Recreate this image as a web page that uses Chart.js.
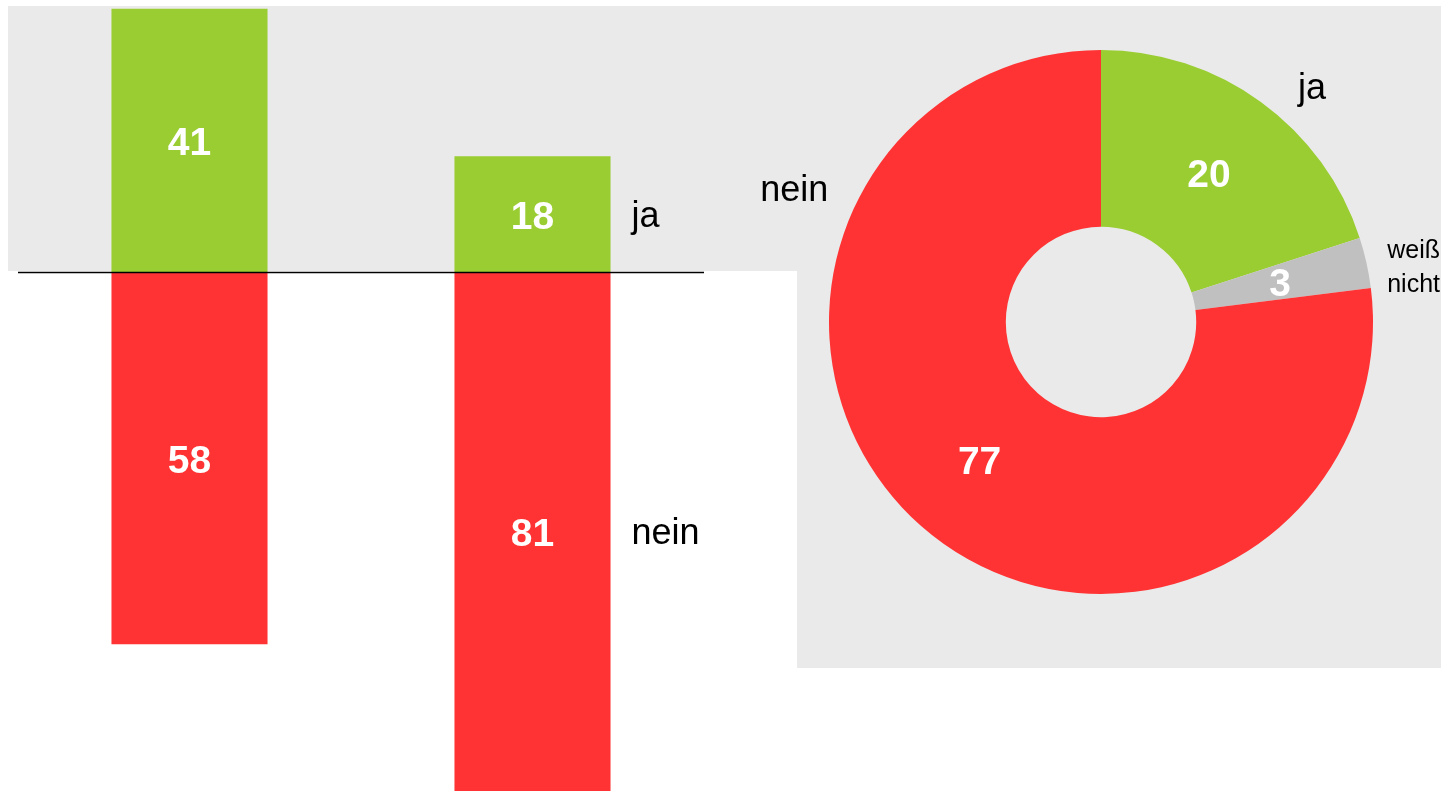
<!DOCTYPE html>
<html>
<head>
<meta charset="utf-8">
<script src="https://cdn.jsdelivr.net/npm/chart.js@4"></script>
<style>
  body { margin: 0; background: #fff; overflow: hidden; }
  .wrap { position: relative; width: 1441px; height: 791px; overflow: hidden; }
  .bg { position: absolute; background: #eaeaea; }
  canvas { position: absolute; }
</style>
</head>
<body>
<div class="wrap">
  <div class="bg" style="left:8px;top:6px;width:1433px;height:265px"></div>
  <div class="bg" style="left:797px;top:6px;width:644px;height:662px"></div>
  <canvas id="barChart" width="720" height="791" style="left:0;top:0"></canvas>
  <canvas id="pieChart" width="721" height="791" style="left:720px;top:0"></canvas>
</div>
<script>
const GREEN = "#9acd32";
const RED = "#ff3333";
const GREY = "#c0c0c0";
const FONT = "'Liberation Sans', Arial, sans-serif";
const VALUE_SIZE = 39;

// bar data
const barCategories = ["A", "B"];
const jaValues = [41, 18];
const neinValues = [58, 81];
const barSeriesNames = ["ja", "nein"];

// doughnut data
const pieLabels = ["ja", "weiß nicht", "nein"];
const pieValues = [20, 3, 77];

// labels outside the doughnut: angle (deg from top, clockwise) and distance from centre (baseline anchor)
const pieOuterLabels = [
    { lines: ["ja"], angle: 43.4, dist: 307, align: "center", size: 36, gap: 0 },
    { lines: ["nein"], angle: -68.4, dist: 330, align: "center", size: 36, gap: 0 },
    { lines: ["weiß", "nicht"], angle: 80.7, dist: 290, align: "left", size: 25, gap: 33.4 },
];

// draw digits so that their ink is centred on y
function valueText(ctx, txt, x, y) {
    ctx.font = "bold " + VALUE_SIZE + "px " + FONT;
    ctx.fillStyle = "#fff";
    ctx.textAlign = "center";
    ctx.textBaseline = "alphabetic";
    ctx.fillText(txt, x, y + VALUE_SIZE * 0.358);
}

// value labels in the middle of each bar segment + series names beside the last bar
const barLabelPlugin = {
    id: "barLabels",
    afterDatasetsDraw(chart) {
        const ctx = chart.ctx;
        const yScale = chart.scales.y;
        ctx.save();
        // zero line
        const y0 = Math.round(yScale.getPixelForValue(0)) + 0.5;
        ctx.strokeStyle = "#000";
        ctx.lineWidth = 1.6;
        ctx.beginPath();
        ctx.moveTo(chart.chartArea.left, y0);
        ctx.lineTo(chart.chartArea.right, y0);
        ctx.stroke();

        chart.data.datasets.forEach((ds, di) => {
            const meta = chart.getDatasetMeta(di);
            meta.data.forEach((bar, i) => {
                const top = Math.max(Math.min(bar.y, bar.base), 0);
                const bottom = Math.min(Math.max(bar.y, bar.base), chart.height);
                const mid = (top + bottom) / 2;
                valueText(ctx, String(Math.abs(ds.data[i])), bar.x, mid + 1);
                if (i === meta.data.length - 1) {
                    ctx.font = "36px " + FONT;
                    ctx.fillStyle = "#000";
                    ctx.textAlign = "left";
                    ctx.textBaseline = "alphabetic";
                    ctx.fillText(ds.label, bar.x + bar.width / 2 + 21, mid + 12.5);
                }
            });
        });
        ctx.restore();
    },
};

new Chart(document.getElementById("barChart"), {
    type: "bar",
    data: {
        labels: barCategories,
        datasets: [
            {
                label: barSeriesNames[0],
                data: jaValues,
                backgroundColor: GREEN,
                borderWidth: 0,
            },
            {
                label: barSeriesNames[1],
                data: neinValues.map((v) => -v),
                backgroundColor: RED,
                borderWidth: 0,
            },
        ],
    },
    options: {
        responsive: false,
        animation: false,
        layout: { padding: { left: 18, right: 16, top: 0, bottom: 0 } },
        datasets: { bar: { categoryPercentage: 1, barPercentage: 0.455 } },
        scales: {
            x: { display: false, stacked: true },
            y: { display: false, stacked: true, min: -80.85, max: 42.35 },
        },
        plugins: { legend: { display: false }, tooltip: { enabled: false } },
    },
    plugins: [barLabelPlugin],
});

// -----------------Doughnut------------------ //
const pieLabelPlugin = {
    id: "pieLabels",
    afterDatasetsDraw(chart) {
        const ctx = chart.ctx;
        const meta = chart.getDatasetMeta(0);
        ctx.save();
        meta.data.forEach((arc, i) => {
            const p = arc.getCenterPoint();
            valueText(ctx, String(pieValues[i]), p.x, p.y);
        });
        const cx = meta.data[0].x;
        const cy = meta.data[0].y;
        ctx.fillStyle = "#000";
        ctx.textBaseline = "alphabetic";
        pieOuterLabels.forEach((l) => {
            const a = (l.angle * Math.PI) / 180;
            const x = cx + l.dist * Math.sin(a);
            const y = cy - l.dist * Math.cos(a);
            ctx.font = l.size + "px " + FONT;
            ctx.textAlign = l.align;
            const first = y - ((l.lines.length - 1) * l.gap) / 2;
            l.lines.forEach((t, k) => ctx.fillText(t, x, first + k * l.gap));
        });
        ctx.restore();
    },
};

new Chart(document.getElementById("pieChart"), {
    type: "doughnut",
    data: {
        labels: pieLabels,
        datasets: [
            {
                data: pieValues,
                backgroundColor: [GREEN, GREY, RED],
                borderWidth: 0,
            },
        ],
    },
    options: {
        responsive: false,
        animation: false,
        cutout: "35%",
        layout: { padding: { left: 109, right: 68, top: 50, bottom: 197 } },
        plugins: { legend: { display: false }, tooltip: { enabled: false } },
    },
    plugins: [pieLabelPlugin],
});
</script>
</body>
</html>
